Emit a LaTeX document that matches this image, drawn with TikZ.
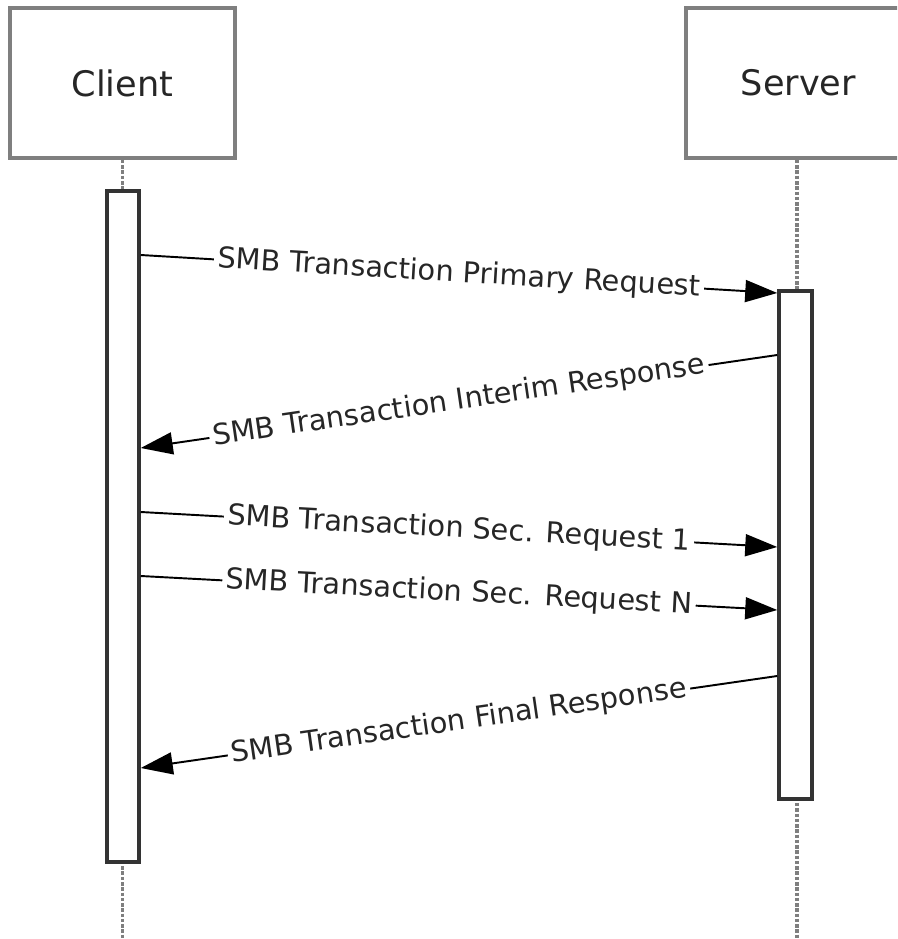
\documentclass[tikz,border=0pt]{standalone}
\usepackage{fontspec}
\setmainfont{DejaVu Sans}
\usetikzlibrary{arrows.meta,positioning,calc}
\definecolor{SeqBoxGray}{HTML}{7F7F7F}
\definecolor{SeqInk}{HTML}{333333}
\definecolor{SeqText}{HTML}{262626}

\begin{document}
\begin{tikzpicture}[x=0.02cm,y=-0.02cm,
    actorbox/.style={draw=SeqBoxGray, line width=2.2pt, fill=white, minimum width=4.5cm,
      minimum height=3cm, inner sep=0pt, text=SeqText, font=\fontsize{20}{24}\selectfont},
    activation/.style={draw=SeqInk, line width=2pt, fill=white, inner sep=0pt},
    lifeline/.style={SeqBoxGray, line width=2.2pt, dash pattern=on 2pt off 1pt},
    msg/.style={draw=black, line width=1.1pt, -{Triangle[length=0.64cm,width=0.44cm]}},
    msglabel/.style={sloped, pos=0.5, fill=white, inner sep=2pt, text=SeqText,
      font=\fontsize{16.4}{19}\selectfont}]
    \clip (0,0) rectangle (897,939);
    \useasboundingbox (0,0) rectangle (897,939);

    \node[actorbox] (client) at (122.5,83) {Client};
    \node[actorbox, anchor=west] (server) at (684,83) {Server};

    \draw[lifeline] (client.south) -- (122.5,939);
    \draw[lifeline] ($(server.south west)+(113,0)$) -- (797,939);

    \node[activation, minimum width=0.64cm, minimum height=13.42cm] (cact) at (123,526.5) {};
    \node[activation, minimum width=0.66cm, minimum height=10.16cm] (sact) at (795.5,545) {};

    \coordinate (c1) at (cact.east |- 0,255);
    \coordinate (s1) at (sact.west |- 0,293);
    \coordinate (s2) at (sact.west |- 0,355);
    \coordinate (c2) at (cact.east |- 0,448);
    \coordinate (c3) at (cact.east |- 0,512);
    \coordinate (s3) at (sact.west |- 0,547);
    \coordinate (c4) at (cact.east |- 0,576);
    \coordinate (s4) at (sact.west |- 0,610);
    \coordinate (s5) at (sact.west |- 0,676);
    \coordinate (c5) at (cact.east |- 0,768);

    \draw[msg] (c1) -- node[msglabel] (m1) {SMB Transaction Primary Request} (s1);
    \draw[msg] (s2) -- node[msglabel] (m2) {SMB Transaction Interim Response} (c2);
    \draw[msg] (c3) -- node[msglabel] (m3) {SMB Transaction Sec. Request 1} (s3);
    \draw[msg] (c4) -- node[msglabel] (m4) {SMB Transaction Sec. Request N} (s4);
    \draw[msg] (s5) -- node[msglabel] (m5) {SMB Transaction Final Response} (c5);
  \end{tikzpicture}
\end{document}
